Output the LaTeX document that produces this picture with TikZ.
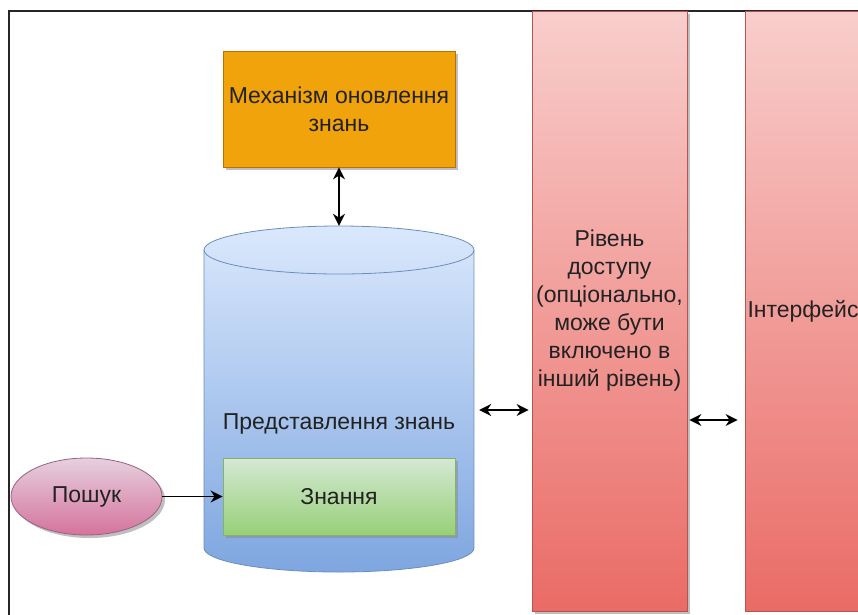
\documentclass[tikz,border=0pt]{standalone}
\usepackage{fontspec}
\setmainfont{Liberation Sans}
\usetikzlibrary{arrows.meta,shadows,shapes.geometric}
\definecolor{orF}{HTML}{F0A30A}
\definecolor{orD}{HTML}{BD7000}
\definecolor{rdT}{HTML}{F8CECC}
\definecolor{rdB}{HTML}{EA6B66}
\definecolor{rdD}{HTML}{B85450}
\definecolor{blT}{HTML}{DAE8FC}
\definecolor{blB}{HTML}{7EA6E0}
\definecolor{blD}{HTML}{6C8EBF}
\definecolor{grT}{HTML}{D5E8D4}
\definecolor{grB}{HTML}{97D077}
\definecolor{grD}{HTML}{82B366}
\definecolor{pkT}{HTML}{E6D0DE}
\definecolor{pkB}{HTML}{D5739D}
\definecolor{pkD}{HTML}{996185}
\definecolor{txt}{HTML}{222222}
\begin{document}
\begin{tikzpicture}[x=1pt,y=-1pt,
  font=\fontsize{23}{28}\selectfont,
  box/.style={draw, rectangle, inner sep=0pt, align=center, line width=0.8pt, text=txt},
  shad/.style={drop shadow={shadow xshift=3pt, shadow yshift=-3pt, fill=black!45, opacity=0.55}},
  conn/.style={line width=1.6pt, {Stealth[length=12pt,width=12pt]}-{Stealth[length=12pt,width=12pt]}},
  oneway/.style={line width=1.6pt, -{Stealth[length=12pt,width=12pt]}}]
\useasboundingbox (0,0) rectangle (858,614);
\clip (0,0) rectangle (858,614);
\fill[white] (0,0) rectangle (858,614);
\draw[line width=1.6pt, black!85] (9,11) rectangle (900,660);

% access and interface layers
\node[box, shad, top color=rdT, bottom color=rdB, draw=rdD, minimum width=155pt, minimum height=600pt] (acc) at (609.5,311)
  {Рівень\\доступу\\(опціонально,\\може бути\\включено в\\інший рівень)};
\node[box, top color=rdT, bottom color=rdB, draw=rdD, minimum width=116pt, minimum height=600pt] (intf) at (803,311) {Інтерфейс};

% update mechanism
\node[box, shad, fill=orF, draw=orD, minimum width=232pt, minimum height=116pt] (mech) at (339,109) {Механізм оновлення\\знань};

% knowledge representation cylinder
\node[minimum width=270pt, minimum height=346pt, inner sep=0pt] (kb) at (339,399) {};
\shade[top color=blT, bottom color=blB, draw=blD, line width=0.8pt]
  (204,250) -- (204,548) arc[start angle=180, end angle=360, x radius=135pt, y radius=24pt]
  -- (474,250) arc[start angle=0, end angle=180, x radius=135pt, y radius=24pt] -- cycle;
\draw[blD, line width=0.8pt] (204,250) arc[start angle=180, end angle=360, x radius=135pt, y radius=24pt];
\node[text=txt] (kbl) at (339,424) {Представлення знань};

% knowledge
\node[box, shad, top color=grT, bottom color=grB, draw=grD, minimum width=232pt, minimum height=77pt] (know) at (339,496.5) {Знання};

% search
\node[ellipse, draw=pkD, line width=0.8pt, shad, top color=pkT, bottom color=pkB, text=txt,
  minimum width=151pt, minimum height=77pt, inner sep=0pt] (search) at (86.5,496.5) {Пошук};

% connectors
\draw[conn] (mech.south) -- (kb.north);
\draw[conn, shorten <=5pt, shorten >=3pt] (kb.east |- 0,410) -- (acc.west |- 0,410);
\draw[conn, shorten <=2pt, shorten >=7pt] (acc.east |- 0,420) -- (intf.west |- 0,420);
\draw[oneway] (search.east) -- (know.west);
\end{tikzpicture}
\end{document}
